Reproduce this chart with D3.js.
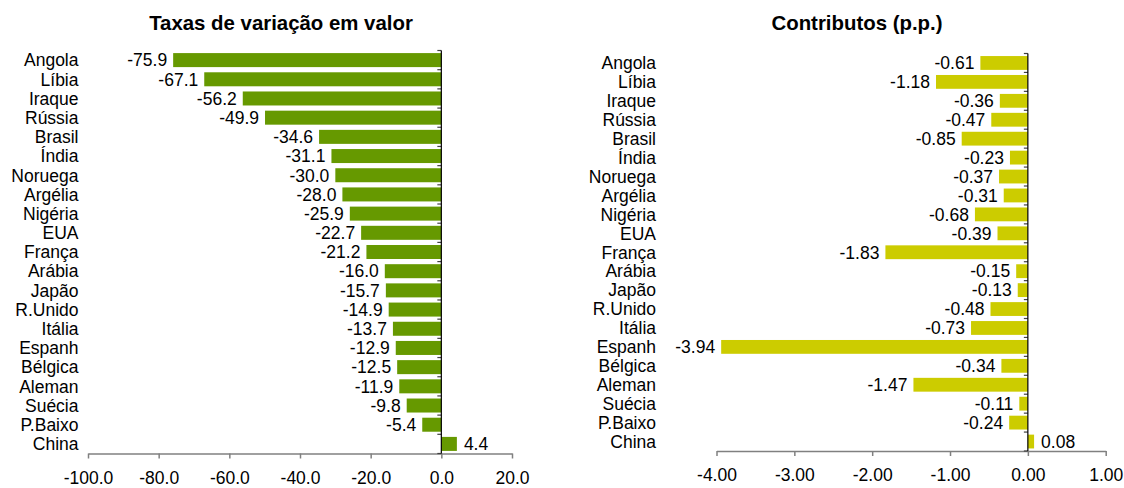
<!DOCTYPE html>
<html><head><meta charset="utf-8">
<script src="https://cdn.jsdelivr.net/npm/d3@7"></script>
<style>body{margin:0;background:#fff}svg{display:block}text{font-family:"Liberation Sans",Arial,sans-serif}</style>
</head><body>
<svg id="c" width="1124" height="488"></svg>
<script>
const categories = ["Angola","Líbia","Iraque","Rússia","Brasil","Índia","Noruega","Argélia","Nigéria","EUA","França","Arábia","Japão","R.Unido","Itália","Espanh","Bélgica","Aleman","Suécia","P.Baixo","China"];
const categoriesRight = ["Angola","Líbia","Iraque","Rússia","Brasil","Índia","Noruega","Argélia","Nigéria","EUA","França","Arábia","Japão","R.Unido","Itália","Espanh","Bélgica","Aleman","Suécia","P.Baixo","China"];
const taxas = [-75.9,-67.1,-56.2,-49.9,-34.6,-31.1,-30.0,-28.0,-25.9,-22.7,-21.2,-16.0,-15.7,-14.9,-13.7,-12.9,-12.5,-11.9,-9.8,-5.4,4.4];
const contributos = [-0.61,-1.18,-0.36,-0.47,-0.85,-0.23,-0.37,-0.31,-0.68,-0.39,-1.83,-0.15,-0.13,-0.48,-0.73,-3.94,-0.34,-1.47,-0.11,-0.24,0.08];
const ticksLeft = [-100,-80,-60,-40,-20,0,20];
const ticksRight = [-4,-3,-2,-1,0,1];

const svg = d3.select("#c");
const FS = 17.5;

function panel(opts){
  const g = svg.append("g");
  const x = d3.scaleLinear().domain(opts.domain).range([opts.x0, opts.x1]);
  const y = d3.scaleBand().domain(opts.cats).range([opts.y0, opts.y1]).paddingInner(0.27).paddingOuter(0.135);
  const yb = d3.scaleBand().domain(opts.cats).range([opts.y0, opts.y1]);
  g.append("text").attr("x", opts.titleX).attr("y", 30).attr("text-anchor","middle")
    .attr("font-size",20.4).attr("font-weight","bold").text(opts.title);
  g.selectAll("rect.bar").data(opts.values).join("rect")
    .attr("x", d => x(Math.min(0,d))).attr("width", d => Math.abs(x(d)-x(0)))
    .attr("y", (d,i) => y(opts.cats[i])).attr("height", y.bandwidth())
    .attr("fill", opts.color);
  g.selectAll("text.val").data(opts.values).join("text")
    .attr("x", d => d < 0 ? x(d) - 6 : x(d) + 7)
    .attr("y", (d,i) => yb(opts.cats[i]) + yb.bandwidth()/2)
    .attr("dy","0.36em").attr("font-size",FS)
    .attr("text-anchor", d => d < 0 ? "end" : "start")
    .text(d => d3.format(opts.fmt)(d).replace("−","-"));
  g.selectAll("text.cat").data(opts.cats).join("text")
    .attr("x", opts.catX).attr("y", c => yb(c) + yb.bandwidth()/2)
    .attr("dy","0.36em").attr("font-size",FS).attr("text-anchor","end").text(c => c);
  const ax = g.append("g").attr("transform",`translate(0,${opts.y1})`)
    .call(d3.axisBottom(x).tickValues(opts.ticks).tickSize(5).tickSizeOuter(0).tickPadding(13)
      .tickFormat(d => d3.format(opts.tfmt)(d).replace("−","-")));
  ax.select(".domain").attr("stroke","#808080").attr("stroke-width",1.5);
  ax.selectAll(".tick line").attr("stroke","#808080").attr("stroke-width",1.5);
  ax.selectAll(".tick text").attr("font-size",FS).attr("font-family","Liberation Sans, Arial, sans-serif").attr("fill","#000");
  const bounds = opts.cats.map(c => yb(c)).concat([opts.y1]);
  g.selectAll("line.yt").data(bounds).join("line")
    .attr("x1", x(0)-4).attr("x2", x(0)).attr("y1", d=>d).attr("y2", d=>d)
    .attr("stroke","#404040").attr("stroke-width",1.2);
  g.append("line").attr("x1",x(0)).attr("x2",x(0)).attr("y1",opts.y0).attr("y2",opts.y1)
    .attr("stroke","#000").attr("stroke-width",1.2);
}

panel({cats:categories, values:taxas, domain:[-100,20], x0:88, x1:512, y0:50.5, y1:453.5,
  color:"#669900", title:"Taxas de variação em valor", titleX:281, catX:78.5, fmt:".1f", tfmt:".1f", ticks:ticksLeft});
panel({cats:categoriesRight, values:contributos, domain:[-4,1], x0:716.5, x1:1105.7, y0:53.5, y1:451,
  color:"#CCCC00", title:"Contributos (p.p.)", titleX:857, catX:656, fmt:".2f", tfmt:".2f", ticks:ticksRight});
</script>
</body></html>
